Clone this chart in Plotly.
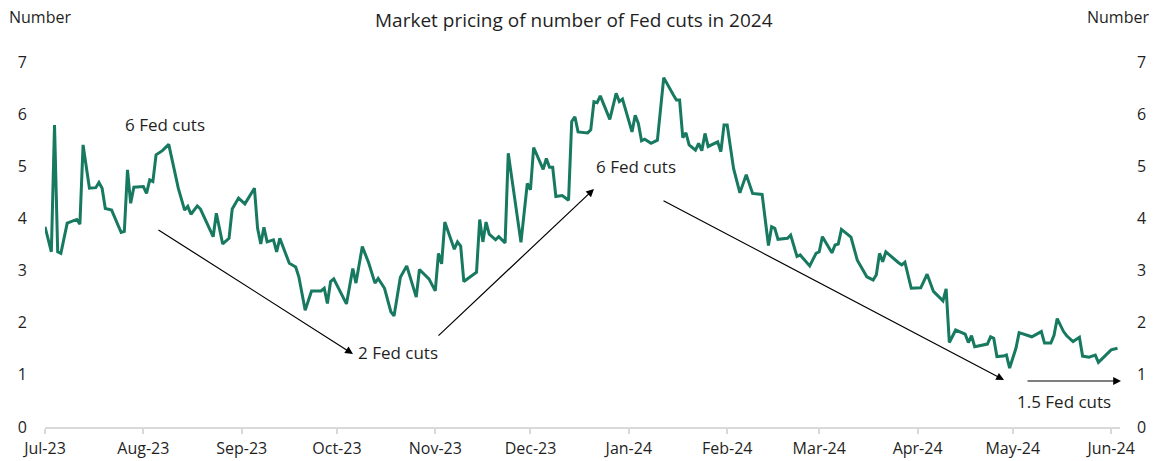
import pandas as pd
import plotly.graph_objects as go

start_date = "2023-07-01"
# days since start_date for each traced vertex
days = [0, 2, 3, 4, 5, 7, 10, 11, 12, 14, 16, 17, 18, 19, 21, 24, 25, 26, 27, 28,
        31, 32, 33, 34, 35, 37, 39, 42, 44, 45, 46, 48, 49, 53, 54, 56, 58, 59, 61, 63,
        66, 67, 68, 69, 70, 72, 73, 74, 76, 77, 79, 80, 82, 84, 87, 88, 89, 90, 91, 95,
        97, 98, 100, 102, 104, 105, 107, 109, 110, 112, 114, 116, 117, 118, 121, 123, 124, 125, 126, 129,
        130, 131, 132, 136, 137, 138, 139, 140, 142, 143, 145, 146, 150, 152, 153, 154, 157, 158, 159, 160,
        161, 163, 165, 166, 167, 168, 171, 172, 173, 174, 175, 178, 180, 181, 182, 185, 186, 187, 188, 189,
        191, 193, 195, 198, 199, 200, 201, 202, 203, 205, 206, 207, 208, 209, 212, 213, 214, 215, 217, 219,
        221, 223, 226, 228, 229, 230, 231, 234, 235, 237, 238, 241, 243, 244, 245, 248, 249, 250, 251, 254,
        256, 259, 261, 262, 263, 264, 265, 269, 270, 271, 273, 276, 278, 280, 282, 283, 284, 285, 287, 289,
        290, 291, 292, 293, 295, 297, 298, 299, 300, 302, 303, 304, 306, 307, 310, 311, 314, 315, 317, 318,
        319, 321, 322, 324, 326, 327, 329, 331, 332, 335, 336, 338]
fed_cuts = [3.84, 3.36, 5.79, 3.36, 3.33, 3.91, 3.98, 3.89, 5.41, 4.58, 4.59, 4.69, 4.58, 4.19, 4.16, 3.73, 3.75, 4.93, 4.29, 4.60,
            4.61, 4.48, 4.74, 4.71, 5.22, 5.30, 5.42, 4.58, 4.16, 4.23, 4.08, 4.24, 4.18, 3.65, 4.10, 3.51, 3.62, 4.18, 4.39, 4.28,
            4.58, 3.81, 3.51, 3.83, 3.55, 3.59, 3.36, 3.62, 3.30, 3.14, 3.07, 2.88, 2.24, 2.61, 2.61, 2.66, 2.37, 2.79, 2.84, 2.36,
            3.04, 2.76, 3.46, 3.15, 2.76, 2.85, 2.66, 2.21, 2.13, 2.87, 3.09, 2.66, 2.49, 3.02, 2.84, 2.61, 3.33, 3.13, 3.93, 3.41,
            3.55, 3.47, 2.79, 2.97, 3.98, 3.55, 3.93, 3.70, 3.59, 3.65, 3.53, 5.25, 3.54, 4.67, 4.55, 5.36, 4.94, 5.15, 4.98, 4.98,
            4.42, 4.44, 4.35, 5.86, 5.95, 5.66, 5.64, 5.70, 6.24, 6.22, 6.35, 5.90, 6.40, 6.24, 6.29, 5.66, 5.98, 5.82, 5.49, 5.52,
            5.44, 5.50, 6.70, 6.37, 6.27, 6.27, 5.55, 5.64, 5.41, 5.31, 5.44, 5.30, 5.63, 5.38, 5.47, 5.28, 5.79, 5.79, 4.96, 4.49,
            4.84, 4.48, 4.46, 3.48, 3.84, 3.81, 3.60, 3.62, 3.68, 3.27, 3.30, 3.09, 3.33, 3.36, 3.65, 3.34, 3.49, 3.51, 3.79, 3.64,
            3.20, 2.88, 2.82, 2.92, 3.33, 3.17, 3.36, 3.15, 3.11, 3.16, 2.66, 2.67, 2.93, 2.60, 2.47, 2.42, 2.65, 1.62, 1.86, 1.80,
            1.78, 1.62, 1.75, 1.54, 1.57, 1.59, 1.73, 1.70, 1.35, 1.36, 1.38, 1.13, 1.51, 1.81, 1.75, 1.73, 1.83, 1.61, 1.61, 1.76,
            2.08, 1.83, 1.75, 1.64, 1.72, 1.36, 1.34, 1.38, 1.24, 1.43, 1.48, 1.51]

y_ticks = [0, 1, 2, 3, 4, 5, 6, 7]
title_text = "Market pricing of number of Fed cuts in 2024"
axis_title = "Number"
labels = ["6 Fed cuts", "2 Fed cuts", "6 Fed cuts", "1.5 Fed cuts"]

dates = pd.Timestamp(start_date) + pd.to_timedelta(days, unit="D")

LINE = "#17795f"
TXT = "#1f1f1f"
FONT = "Open Sans"

fig = go.Figure()
fig.add_trace(go.Scatter(x=dates, y=fed_cuts, mode="lines",
                         line=dict(color=LINE, width=3), showlegend=False))
fig.add_trace(go.Scatter(x=dates, y=fed_cuts, mode="lines", yaxis="y2",
                         line=dict(color="rgba(0,0,0,0)", width=0), showlegend=False,
                         hoverinfo="skip"))

fig.update_layout(
    width=1161, height=461,
    margin=dict(l=45, r=41, t=62, b=34),
    paper_bgcolor="white", plot_bgcolor="white",
    font=dict(family=FONT, size=16, color=TXT),
    xaxis=dict(type="date", range=["2023-07-01", "2024-06-03 19:00"],
               tick0="2023-07-01", dtick="M1", tickformat="%b-%y",
               showgrid=False, zeroline=False, showline=True,
               linecolor="#d9d9d9", linewidth=1.5,
               ticks="outside", ticklen=5, tickcolor="#d9d9d9", tickwidth=1.5,
               ticklabelstandoff=1, automargin=False,
               tickfont=dict(size=16, color=TXT)),
    yaxis=dict(range=[0, 7], tickvals=y_ticks, showgrid=False, zeroline=False,
               showline=False, ticks="", ticklabelstandoff=17, automargin=False,
               tickfont=dict(size=16, color=TXT)),
    yaxis2=dict(range=[0, 7], tickvals=y_ticks, overlaying="y", side="right",
                showgrid=False, zeroline=False, showline=False, ticks="",
                ticklabelstandoff=16, automargin=False, tickfont=dict(size=16, color=TXT)),
)

def paper_x(px):
    return (px - 45) / 1075

def paper_y(py):
    return (427 - py) / 365

ann = []
# title and axis titles
ann.append(dict(text=title_text, x=paper_x(574), y=paper_y(20), xref="paper", yref="paper",
                showarrow=False, xanchor="center", yanchor="middle", font=dict(size=19)))
ann.append(dict(text=axis_title, x=paper_x(7), y=paper_y(17), xref="paper", yref="paper",
                showarrow=False, xanchor="left", yanchor="middle", font=dict(size=16)))
ann.append(dict(text=axis_title, x=paper_x(1151), y=paper_y(17), xref="paper", yref="paper",
                showarrow=False, xanchor="right", yanchor="middle", font=dict(size=16)))
# labels
ann.append(dict(text=labels[0], x=paper_x(165), y=paper_y(125), xref="paper", yref="paper",
                showarrow=False, xanchor="center", yanchor="middle", font=dict(size=17)))
ann.append(dict(text=labels[1], x=paper_x(356), y=paper_y(352), xref="paper", yref="paper",
                showarrow=False, xanchor="left", yanchor="middle", font=dict(size=17)))
ann.append(dict(text=labels[2], x=paper_x(636), y=paper_y(166), xref="paper", yref="paper",
                showarrow=False, xanchor="center", yanchor="middle", font=dict(size=17)))
ann.append(dict(text=labels[3], x=paper_x(1064), y=paper_y(401), xref="paper", yref="paper",
                showarrow=False, xanchor="center", yanchor="middle", font=dict(size=17)))
# arrows (head, tail)
arrows = [((353, 354), (157, 229)),
          ((594, 189), (437, 337)),
          ((1004, 380), (662, 200)),
          ((1121, 381), (1026, 381))]
for (hx, hy), (tx, ty) in arrows:
    ann.append(dict(text="", x=paper_x(hx), y=paper_y(hy), xref="paper", yref="paper",
                    ax=tx - hx, ay=ty - hy, showarrow=True, arrowhead=2, arrowsize=1.3,
                    arrowwidth=1.2, arrowcolor="#000000"))
fig.update_layout(annotations=ann)

fig.write_html("out.html")
